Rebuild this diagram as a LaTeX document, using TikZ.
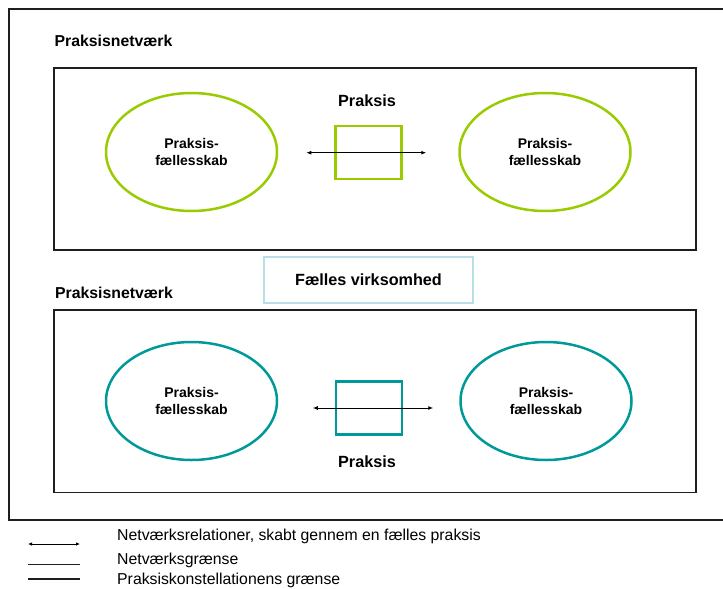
\documentclass[tikz,border=0pt]{standalone}
\usepackage{fontspec}
\setmainfont{Liberation Sans}
\usetikzlibrary{shapes.geometric,arrows.meta}
\definecolor{limegreen}{HTML}{99CC00}
\definecolor{tealline}{HTML}{009999}
\definecolor{paleblue}{HTML}{B9DFE6}
\definecolor{frame}{HTML}{1E1E1E}
\begin{document}
\begin{tikzpicture}[x=1pt,y=-1pt,
  netbox/.style={draw=frame,line width=1.5pt},
  community/.style={ellipse,line width=2.5pt,minimum width=171pt,minimum height=118pt,
    inner sep=0pt,align=center,font=\fontsize{14}{17}\selectfont\bfseries},
  practice/.style={rectangle,line width=2.5pt,minimum width=66pt,minimum height=53pt,inner sep=0pt},
  title/.style={font=\fontsize{15.8}{17}\selectfont\bfseries,inner sep=0pt},
  labelfont/.style={font=\fontsize{16.2}{17}\selectfont\bfseries},
  relation/.style={line width=1pt,{Latex[length=5pt,width=4pt]}-{Latex[length=5pt,width=4pt]}},
  legendtext/.style={anchor=base west,inner sep=0pt,font=\fontsize{15.8}{17}\selectfont}]
\useasboundingbox (0,0) rectangle (723,589);
\clip (0,0) rectangle (723,589);

% outer boundary of the constellation (runs off to the right)
\draw[draw=frame,line width=2pt] (9,9) -- (740,9) -- (740,519.5) -- (9,519.5) -- cycle;

% upper network
\draw[netbox] (54,68) rectangle (696,250);
\node[title,anchor=base west] (net1) at (54.5,46.5) {Praksisnetværk};
\node[community,draw=limegreen] (c1) at (191.5,152) {Praksis-\\fællesskab};
\node[community,draw=limegreen] (c2) at (545,152) {Praksis-\\fællesskab};
\node[practice,draw=limegreen] (p1) at (368.7,152.5) {};
\node[labelfont,inner sep=0pt] (p1lab) at (367,101) {Praksis};
\draw[relation] ([shift={(28,0.7)}]c1.east) -- ([shift={(-32,0.7)}]c2.west);

% joint enterprise
\node[draw=paleblue,line width=2.5pt,minimum width=209pt,minimum height=46pt,inner sep=0pt,
  labelfont] (joint) at (368.5,280) {Fælles virksomhed};

% lower network
\draw[netbox] (54,310) rectangle (696,492.5);
\node[title,anchor=base west] (net2) at (55,298.5) {Praksisnetværk};
\node[community,draw=tealline] (c3) at (191.5,401) {Praksis-\\fællesskab};
\node[community,draw=tealline] (c4) at (546,401) {Praksis-\\fællesskab};
\node[practice,draw=tealline] (p2) at (368.8,408.2) {};
\node[labelfont,inner sep=0pt] (p2lab) at (367,462) {Praksis};
\draw[relation] ([shift={(34.5,7)}]c3.east) -- ([shift={(-26,7)}]c4.west);

% legend
\coordinate (l1a) at (28,544); \coordinate (l1b) at (80,544);
\coordinate (l2a) at (28,564); \coordinate (l2b) at (80,564);
\coordinate (l3a) at (28,579); \coordinate (l3b) at (80,579);
\draw[line width=1pt,{Latex[length=4pt,width=3.5pt]}-{Latex[length=4pt,width=3.5pt]}] (l1a) -- (l1b);
\draw[line width=0.8pt,draw=frame] (l2a) -- (l2b);
\draw[line width=2pt,draw=frame] (l3a) -- (l3b);
\node[legendtext] (t1) at (117,540) {Netværksrelationer, skabt gennem en fælles praksis};
\node[legendtext] (t2) at (117,564) {Netværksgrænse};
\node[legendtext] (t3) at (117,584.5) {Praksiskonstellationens grænse};
\end{tikzpicture}
\end{document}
